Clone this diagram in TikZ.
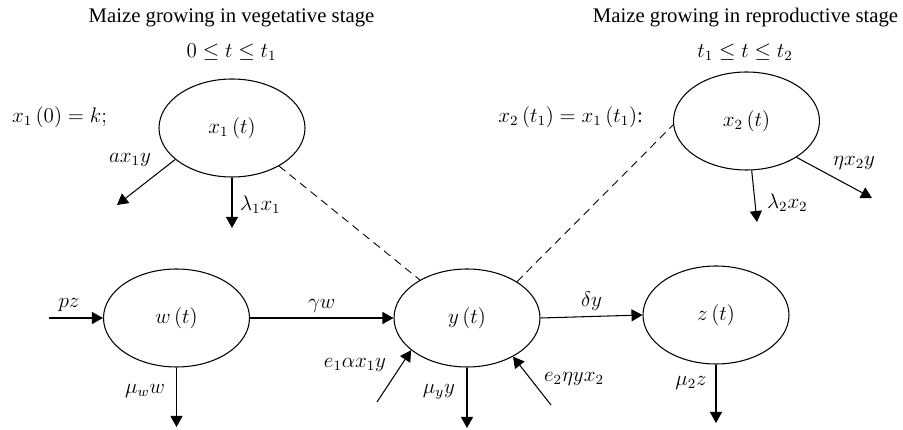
\documentclass[tikz,border=0pt]{standalone}
\usepackage{fontspec}
\setmainfont{Liberation Serif}
\usetikzlibrary{arrows.meta,positioning,shapes.geometric}

\begin{document}
\begin{tikzpicture}[
    font=\fontsize{11.8}{14}\selectfont,
    comp/.style={draw, ellipse, minimum width=2.92cm, minimum height=1.96cm, inner sep=0pt, line width=0.6pt},
    arr/.style={-{Triangle[length=2.2mm, width=2.4mm]}, line width=0.6pt},
    link/.style={dash pattern=on 1.6mm off 1.1mm, line width=0.5pt},
    lbl/.style={inner sep=1pt},
  ]
  \useasboundingbox (0,0) rectangle (18.06,8.6);

  % Stage headings
  \node[lbl] (hveg) at (4.63, 8.24) {Maize growing in vegetative stage};
  \node[lbl] (rveg) at (4.63, 7.56) {$0 \le t \le t_1$};
  \node[lbl] (hrep) at (14.91, 8.24) {Maize growing in reproductive stage};
  \node[lbl] (rrep) at (14.9, 7.56) {$t_1 \le t \le t_2$};

  % Compartments
  \node[comp] (x1) at (4.64, 6.04) {$x_1\,(t)$};
  \node[comp] (x2) at (14.93, 6.18) {$x_2\,(t)$};
  \node[comp] (w) at (3.53, 2.24) {$w\,(t)$};
  \node[comp] (y) at (9.34, 2.24) {$y\,(t)$};
  \node[comp] (z) at (14.32, 2.3) {$z\,(t)$};

  % Initial conditions
  \node[lbl, anchor=west] (ic1) at (0.2, 6.26) {$x_1\,(0) = k;$};
  \node[lbl, anchor=east] (ic2) at (12.9, 6.26) {$x_2\,(t_1) = x_1\,(t_1)$:};

  % Free ends of the flows
  \coordinate (ax) at (2.34, 4.5);
  \coordinate (l1) at (4.64, 4.04);
  \coordinate (l2) at (15.14, 4.16);
  \coordinate (ex) at (17.44, 4.64);
  \coordinate (pin) at (0.98, 2.24);
  \coordinate (mw) at (3.53, 0.06);
  \coordinate (e1) at (7.54, 0.56);
  \coordinate (my) at (9.34, 0.04);
  \coordinate (e2) at (11.02, 0.5);
  \coordinate (mz) at (14.32, 0.14);

  % Stage links
  \draw[link] (x1) -- (y);
  \draw[link] (y.36) -- (x2.183);

  % Flows of x1 and x2
  \draw[arr] (x1.209) -- (ax);
  \node[lbl] at (2.6, 5.4) {$ax_1y$};
  \draw[arr] (x1.south) -- (l1);
  \node[lbl, anchor=west] at (4.76, 4.5) {$\lambda_1x_1$};
  \draw[arr] (x2.-84) -- (l2);
  \node[lbl, anchor=west] at (15.3, 4.54) {$\lambda_2x_2$};
  \draw[arr] (x2.-36) -- (ex);
  \node[lbl] at (17.08, 5.34) {$\eta x_2y$};

  % Flows of w, y and z
  \draw[arr] (pin) -- (w.west);
  \node[lbl] at (1.38, 2.5) {$pz$};
  \draw[arr] (w.south) -- (mw);
  \node[lbl] at (2.9, 0.78) {$\mu_w w$};
  \draw[arr] (w.east) -- node[lbl, above=2pt] {$\gamma w$} (y.west);
  \draw[arr] (e1) -- (y.210);
  \node[lbl] at (7.1, 1.3) {$e_1\alpha x_1y$};
  \draw[arr] (y.south) -- (my);
  \node[lbl] at (8.78, 0.76) {$\mu_y y$};
  \draw[arr] (e2) -- (y.-40);
  \node[lbl] at (11.48, 1.02) {$e_2\eta yx_2$};
  \draw[arr] (y.east) -- node[lbl, above=2pt] {$\delta y$} (z.west);
  \draw[arr] (z.south) -- (mz);
  \node[lbl] at (13.82, 0.94) {$\mu_2z$};
\end{tikzpicture}
\end{document}
